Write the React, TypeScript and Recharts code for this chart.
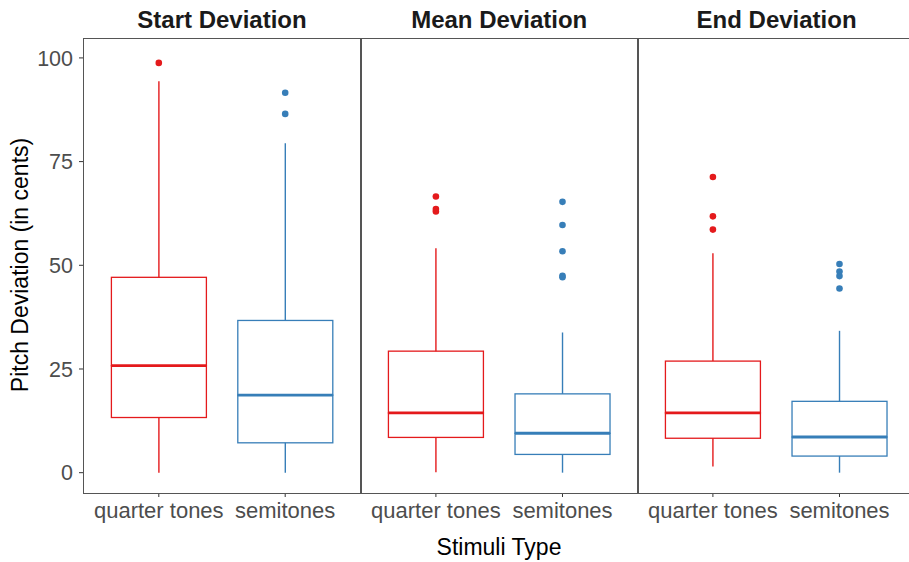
import React from 'react';
import { ComposedChart, Bar, Scatter, XAxis, YAxis } from 'recharts';

const facets = ['Start Deviation', 'Mean Deviation', 'End Deviation'];
const groups = ['quarter tones', 'semitones'];
const groupColors = ['#E41A1C', '#377EB8'];
const yTicks = [0, 25, 50, 75, 100];

// [lower whisker, Q1, median, Q3, upper whisker] -> quarter tones, semitones
const startBoxes = [[0, 13.3, 25.8, 47.1, 94.4], [0, 7.2, 18.7, 36.7, 79.4]];
const meanBoxes = [[0.1, 8.5, 14.4, 29.3, 54.1], [0, 4.4, 9.5, 19.0, 33.8]];
const endBoxes = [[1.5, 8.3, 14.4, 26.9, 52.9], [0, 4.0, 8.6, 17.2, 34.2]];

const startOutliers = [[98.8], [91.6, 86.5]];
const meanOutliers = [[66.6, 63.55, 63.0], [65.3, 59.7, 53.4, 47.45, 47.1]];
const endOutliers = [[71.3, 61.8, 58.6], [50.3, 48.5, 47.4, 44.4]];

const Y_DOMAIN = [-4.9, 104.8];
const PLOT_TOP = 38;
const PLOT_BOTTOM = 493;
const CHART_H = 562;
const X_AXIS_H = 40;
const FONT = '"Liberation Sans", Arial, Helvetica, sans-serif';

const colorOf = (p: any) => {
  const i = groups.indexOf(p?.payload?.group);
  return groupColors[i >= 0 ? i : p.index ?? 0];
};

const hidden = () => <g />;

const whisker = (p: any) => {
  const cx = p.x + p.width / 2;
  return <line x1={cx} x2={cx} y1={p.y} y2={p.y + p.height} stroke={colorOf(p)} strokeWidth={1.4} />;
};

const lowerBox = (p: any) => (
  <g>
    <rect x={p.x} y={p.y} width={p.width} height={p.height} fill="none" stroke={colorOf(p)} strokeWidth={1.3} />
    <line x1={p.x} x2={p.x + p.width} y1={p.y} y2={p.y} stroke={colorOf(p)} strokeWidth={2.8} />
  </g>
);

const upperBox = (p: any) => (
  <rect x={p.x} y={p.y} width={p.width} height={p.height} fill="none" stroke={colorOf(p)} strokeWidth={1.3} />
);

const dot = (color: string) => (p: any) => <circle cx={p.cx} cy={p.cy} r={3.3} fill={color} />;

function Panel({ title, boxes, outliers, left, width, showY }: any) {
  const rows = groups.map((g, i) => {
    const [lo, q1, med, q3, hi] = boxes[i];
    return { group: g, base: lo, lowWhisker: q1 - lo, lowBox: med - q1, highBox: q3 - med, highWhisker: hi - q3 };
  });
  const yW = showY ? 83 : 0;
  const plotW = width - yW;
  return (
    <div style={{ position: 'absolute', left, top: 0, width, height: CHART_H }}>
      <ComposedChart
        width={width}
        height={CHART_H}
        data={rows}
        barCategoryGap="12.5%"
        margin={{ top: PLOT_TOP, right: 0, left: 0, bottom: CHART_H - PLOT_BOTTOM - X_AXIS_H }}
      >
        <XAxis
          dataKey="group"
          type="category"
          allowDuplicatedCategory={false}
          padding={{ left: 12.6, right: 12.6 }}
          height={X_AXIS_H}
          axisLine={false}
          tickSize={4}
          tickMargin={5}
          tickLine={{ stroke: '#333333' }}
          tick={{ fill: '#4d4d4d', fontSize: 22, fontFamily: FONT }}
          interval={0}
        />
        <YAxis
          hide={!showY}
          width={yW}
          type="number"
          domain={Y_DOMAIN}
          allowDataOverflow
          ticks={yTicks}
          axisLine={false}
          tickSize={4}
          tickMargin={6}
          tickLine={{ stroke: '#333333' }}
          tick={{ fill: '#4d4d4d', fontSize: 21.5, fontFamily: FONT }}
        />
        <Bar dataKey="base" stackId="box" shape={hidden} isAnimationActive={false} />
        <Bar dataKey="lowWhisker" stackId="box" shape={whisker} isAnimationActive={false} />
        <Bar dataKey="lowBox" stackId="box" shape={lowerBox} isAnimationActive={false} />
        <Bar dataKey="highBox" stackId="box" shape={upperBox} isAnimationActive={false} />
        <Bar dataKey="highWhisker" stackId="box" shape={whisker} isAnimationActive={false} />
        {groups.map((g, i) => (
          <Scatter
            key={g}
            data={outliers[i].map((v: number) => ({ group: g, value: v }))}
            dataKey="value"
            shape={dot(groupColors[i])}
            isAnimationActive={false}
          />
        ))}
      </ComposedChart>
      <div
        style={{
          position: 'absolute',
          left: yW,
          top: PLOT_TOP,
          width: plotW - 1,
          height: PLOT_BOTTOM - PLOT_TOP - 1,
          border: '1px solid #555555',
          pointerEvents: 'none',
        }}
      />
      <div
        style={{
          position: 'absolute',
          left: yW,
          width: plotW,
          top: 4,
          textAlign: 'center',
          fontFamily: FONT,
          fontWeight: 'bold',
          fontSize: 24,
          lineHeight: '32px',
          color: '#1a1a1a',
        }}
      >
        {title}
      </div>
    </div>
  );
}

export default function App() {
  return (
    <div
      style={{
        position: 'absolute',
        left: 0,
        top: 0,
        width: 909,
        height: 562,
        overflow: 'hidden',
        background: '#ffffff',
        fontFamily: FONT,
      }}
    >
      <Panel title={facets[0]} boxes={startBoxes} outliers={startOutliers} left={0} width={361} showY />
      <Panel title={facets[1]} boxes={meanBoxes} outliers={meanOutliers} left={360} width={278.4} />
      <Panel title={facets[2]} boxes={endBoxes} outliers={endOutliers} left={637.4} width={278.4} />
      <div
        style={{
          position: 'absolute',
          left: 20,
          top: 265,
          transform: 'translate(-50%, -50%) rotate(-90deg)',
          whiteSpace: 'nowrap',
          fontSize: 23,
          color: '#000000',
        }}
      >
        Pitch Deviation (in cents)
      </div>
      <div
        style={{
          position: 'absolute',
          left: 499,
          top: 547,
          transform: 'translate(-50%, -50%)',
          whiteSpace: 'nowrap',
          fontSize: 23,
          color: '#000000',
        }}
      >
        Stimuli Type
      </div>
    </div>
  );
}
